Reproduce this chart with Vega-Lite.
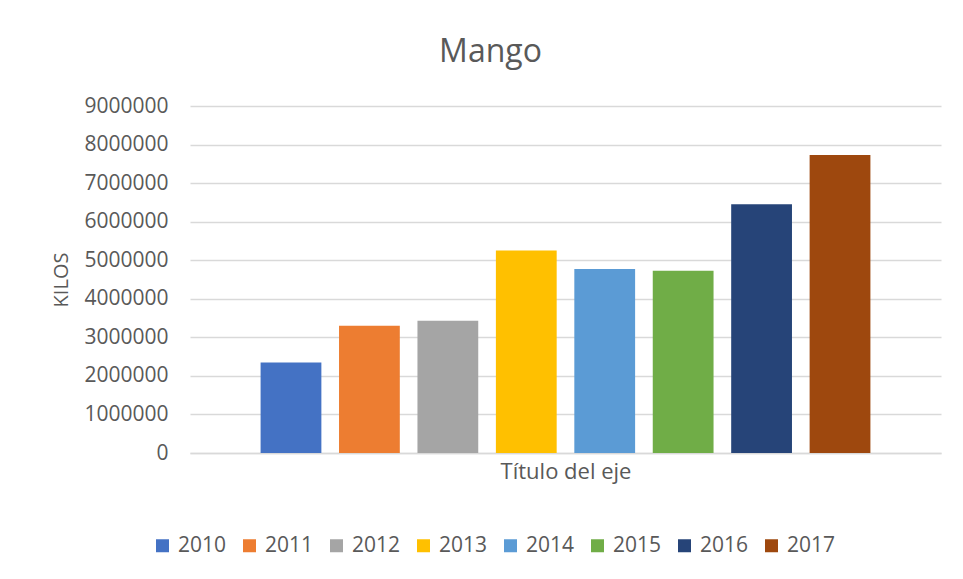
{
  "$schema": "https://vega.github.io/schema/vega-lite/v6.json",
  "autosize": {"type": "none"},
  "width": 751,
  "height": 347,
  "padding": {"left": 190, "top": 106, "right": 22, "bottom": 126},
  "background": "white",
  "title": {
    "text": "Mango",
    "fontSize": 32,
    "font": "Open Sans",
    "fontWeight": "normal",
    "color": "#595959",
    "anchor": "middle",
    "dx": -75,
    "offset": 26
  },
  "data": {
    "values": [
      {"year": "2010", "kilos": 2345000},
      {"year": "2011", "kilos": 3300000},
      {"year": "2012", "kilos": 3430000},
      {"year": "2013", "kilos": 5250000},
      {"year": "2014", "kilos": 4775000},
      {"year": "2015", "kilos": 4730000},
      {"year": "2016", "kilos": 6450000},
      {"year": "2017", "kilos": 7730000}
    ]
  },
  "mark": {"type": "bar"},
  "encoding": {
    "x": {
      "field": "year",
      "type": "nominal",
      "scale": {"paddingInner": 0.225, "paddingOuter": 0.9},
      "axis": {
        "title": "Título del eje",
        "labels": false,
        "ticks": false,
        "domainColor": "#d9d9d9",
        "domainWidth": 1.5,
        "titleFont": "Open Sans",
        "titleFontSize": 22,
        "titleFontWeight": "normal",
        "titleColor": "#595959",
        "titlePadding": 8
      }
    },
    "y": {
      "field": "kilos",
      "type": "quantitative",
      "scale": {"domain": [0, 9000000], "nice": false},
      "axis": {
        "title": "KILOS",
        "values": [0, 1000000, 2000000, 3000000, 4000000, 5000000, 6000000, 7000000, 8000000, 9000000],
        "format": "d",
        "domain": false,
        "ticks": false,
        "labelPadding": 22,
        "labelFont": "Open Sans",
        "labelFontSize": 21,
        "labelColor": "#595959",
        "gridColor": "#d9d9d9",
        "gridWidth": 1.3,
        "titleFont": "Open Sans",
        "titleFontSize": 20,
        "titleFontWeight": "normal",
        "titleColor": "#595959",
        "titlePadding": 12
      }
    },
    "color": {
      "field": "year",
      "type": "nominal",
      "scale": {
        "domain": ["2010", "2011", "2012", "2013", "2014", "2015", "2016", "2017"],
        "range": ["#4472C4", "#ED7D31", "#A5A5A5", "#FFC000", "#5B9BD5", "#70AD47", "#264478", "#9E480E"]
      },
      "legend": {
        "title": null,
        "orient": "none",
        "direction": "horizontal",
        "legendX": -38,
        "legendY": 429,
        "symbolType": "square",
        "symbolSize": 169,
        "symbolStrokeWidth": 0,
        "labelFont": "Open Sans",
        "labelFontSize": 21,
        "labelColor": "#595959",
        "labelOffset": 5,
        "columnPadding": 12
      }
    }
  },
  "config": {"view": {"stroke": null}}
}
